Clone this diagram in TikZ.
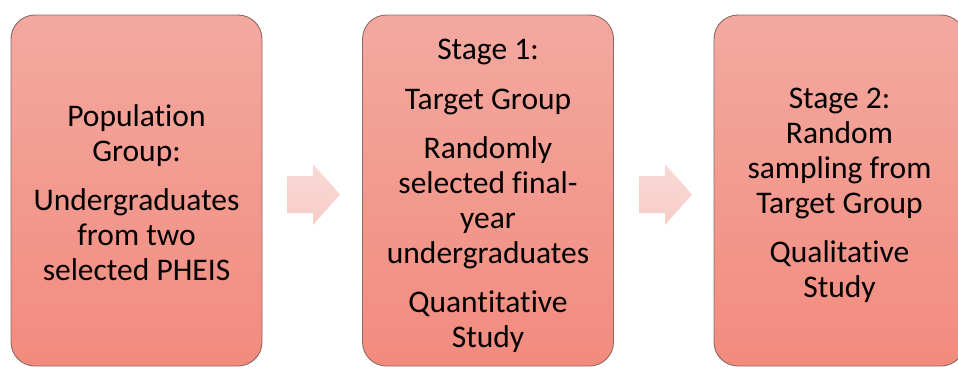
\documentclass[tikz,border=0pt]{standalone}
\usepackage{fontspec}
\setmainfont{Carlito}[Ligatures=NoCommon]
\begin{document}
\definecolor{boxtop}{RGB}{243,169,160}
\definecolor{boxbottom}{RGB}{242,139,126}
\definecolor{boxline}{RGB}{140,105,100}
\definecolor{arrowtop}{RGB}{249,218,214}
\definecolor{arrowbottom}{RGB}{247,204,199}
\begin{tikzpicture}[x=1pt,y=-1pt,
  stagebox/.style={draw=boxline, line width=0.9pt, rounded corners=24pt,
    top color=boxtop, bottom color=boxbottom, inner sep=0pt,
    minimum width=251pt, minimum height=351pt},
  stagetext/.style={align=center, anchor=base, inner sep=0pt,
    font=\fontsize{31.5}{35}\selectfont},
  blockarrow/.style={top color=arrowtop, bottom color=arrowbottom, draw=none}]
  \useasboundingbox (0,0) rectangle (958,367);

  % the three stage boxes
  \node[stagebox] (b1) at (136.5,190.5) {};
  \node[stagebox] (b2) at (488,190.5) {};
  \node[stagebox] (b3) at (839.5,190.5) {};

  % box texts, placed at the baseline of their last line
  \node[stagetext] (t1) at (136.5,280) {Population\\Group:\\[14pt]Undergraduates\\from two\\selected PHEIS};
  \node[stagetext] (t2) at (488,347) {Stage 1:\\[15pt]Target Group\\[14pt]Randomly\\selected final-\\year\\undergraduates\\[14pt]Quantitative\\Study};
  \node[stagetext] (t3) at (839.5,297) {Stage 2:\\Random\\sampling from\\Target Group\\[14pt]Qualitative\\Study};

  % block arrows between the boxes
  \path[blockarrow] (287,176) -- (313,176) -- (313,164) -- (340,194.5)
    -- (313,225) -- (313,213) -- (287,213) -- cycle;
  \path[blockarrow] (639,176) -- (665,176) -- (665,164) -- (692,194.5)
    -- (665,225) -- (665,213) -- (639,213) -- cycle;
\end{tikzpicture}
\end{document}
